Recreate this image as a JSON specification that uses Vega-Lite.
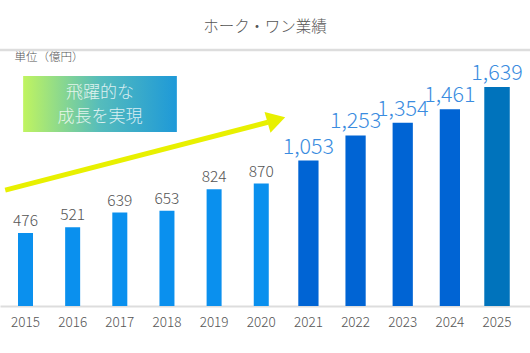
{
  "$schema": "https://vega.github.io/schema/vega-lite/v6.json",
  "width": 530,
  "height": 256,
  "autosize": {"type": "none"},
  "padding": {"top": 50, "left": 0, "right": 0, "bottom": 47},
  "background": "white",
  "title": {"text": "ホーク・ワン業績", "fontSize": 15.5, "font": "Noto Sans CJK JP", "fontWeight": 300, "color": "#555555", "offset": 13, "anchor": "middle"},
  "config": {"view": {"stroke": null}, "font": "Noto Sans CJK JP"},
  "data": {"values": [
    {"year": "2015", "value": 476, "phase": "2015–2020"},
    {"year": "2016", "value": 521, "phase": "2015–2020"},
    {"year": "2017", "value": 639, "phase": "2015–2020"},
    {"year": "2018", "value": 653, "phase": "2015–2020"},
    {"year": "2019", "value": 824, "phase": "2015–2020"},
    {"year": "2020", "value": 870, "phase": "2015–2020"},
    {"year": "2021", "value": 1053, "phase": "2021–2024"},
    {"year": "2022", "value": 1253, "phase": "2021–2024"},
    {"year": "2023", "value": 1354, "phase": "2021–2024"},
    {"year": "2024", "value": 1461, "phase": "2021–2024"},
    {"year": "2025", "value": 1639, "phase": "2025"}
  ]},
  "layer": [
    {
      "data": {"values": [{}]},
      "mark": {"type": "rule", "color": "#DDDDDD", "strokeWidth": 2.5},
      "encoding": {"y": {"datum": 1934, "type": "quantitative"}}
    },
    {
      "mark": {"type": "bar"},
      "encoding": {
        "x": {
          "field": "year", "type": "nominal",
          "scale": {"domain": ["2015","2016","2017","2018","2019","2020","2021","2022","2023","2024","2025"], "paddingInner": 0, "paddingOuter": 0.12, "align": 0.17},
          "axis": {"title": null, "labelAngle": 0, "ticks": false, "domainColor": "#DDDDDD", "domainWidth": 2, "labelFontSize": 13.5, "labelColor": "#555555", "labelPadding": 9, "labelFontWeight": 300}
        },
        "y": {
          "field": "value", "type": "quantitative",
          "scale": {"domain": [-106, 1934], "nice": false, "zero": false},
          "axis": {"title": "単位（億円）", "titleAngle": 0, "titleAlign": "left", "titleBaseline": "middle", "titleX": 14, "titleY": 7, "titleFontSize": 11.5, "titleFontWeight": 300, "titleColor": "#555555", "labels": false, "ticks": false, "domain": false, "grid": false}
        },
        "y2": {"datum": -106},
        "color": {"field": "phase", "type": "nominal", "scale": {"domain": ["2015–2020", "2021–2024", "2025"], "range": ["#0A90EE", "#0064D4", "#0073BC"]}, "legend": null},
        "size": {"field": "phase", "type": "ordinal", "scale": {"domain": ["2015–2020", "2021–2024", "2025"], "range": [15, 25.5, 32]}, "legend": null}
      }
    },
    {
      "mark": {"type": "text", "baseline": "alphabetic", "dy": -7, "fontWeight": 300},
      "encoding": {
        "x": {"field": "year", "type": "nominal"},
        "y": {"field": "value", "type": "quantitative"},
        "text": {"field": "value", "type": "quantitative", "format": ","},
        "color": {"condition": {"test": "datum.phase === '2015–2020'", "value": "#555555"}, "value": "#3A8CE0"},
        "size": {"condition": {"test": "datum.phase === '2015–2020'", "value": 15.5}, "value": 21.5}
      }
    },
    {
      "data": {"values": [{}]},
      "mark": {"type": "rect", "fill": {"x1": 0, "y1": 0, "x2": 1, "y2": 0, "gradient": "linear", "stops": [{"offset": 0, "color": "#C0F460"}, {"offset": 0.5, "color": "#55BCBC"}, {"offset": 1, "color": "#1E99D8"}]}},
      "encoding": {
        "x": {"datum": "2015", "type": "nominal", "bandPosition": 0.45},
        "x2": {"datum": "2018", "bandPosition": 0.71},
        "y": {"datum": 1727, "type": "quantitative"},
        "y2": {"datum": 1281}
      }
    },
    {
      "data": {"values": [{}]},
      "mark": {"type": "text", "text": "飛躍的な\n成長を実現", "lineBreak": "\n", "lineHeight": 24, "align": "center", "baseline": "middle", "fontSize": 17, "fontWeight": 300, "color": "#FFFFFF", "opacity": 0.8},
      "encoding": {
        "x": {"datum": "2017", "type": "nominal", "bandPosition": 0.08},
        "y": {"datum": 1591, "type": "quantitative"}
      }
    },
    {
      "data": {"values": [{}]},
      "mark": {"type": "rule", "color": "#E8F000", "strokeWidth": 5, "strokeCap": "butt"},
      "encoding": {
        "x": {"datum": "2015", "type": "nominal", "bandPosition": 0.07},
        "x2": {"datum": "2020", "bandPosition": 0.64},
        "y": {"datum": 818, "type": "quantitative"},
        "y2": {"datum": 1358}
      }
    },
    {
      "data": {"values": [{}]},
      "mark": {"type": "point", "shape": "M -1 -1.17 L 1 0 L -1 1.17 Z", "filled": true, "size": 339, "angle": -16, "color": "#E8F000", "opacity": 1, "strokeWidth": 0},
      "encoding": {
        "x": {"datum": "2020", "type": "nominal", "bandPosition": 0.82},
        "y": {"datum": 1378, "type": "quantitative"}
      }
    }
  ]
}
